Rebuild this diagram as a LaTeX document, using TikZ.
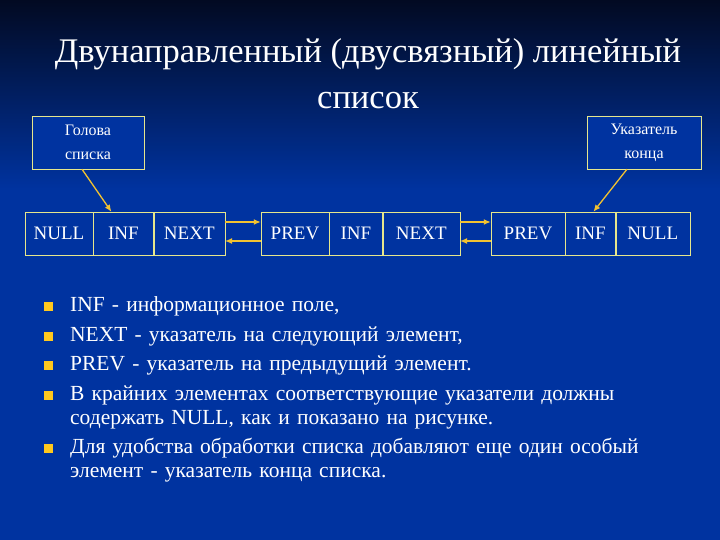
\documentclass[tikz,border=0pt]{standalone}
\usepackage{fontspec}
\setmainfont{Liberation Serif}
\usetikzlibrary{arrows.meta,positioning}
\definecolor{slidetop}{HTML}{020A22}
\definecolor{slideblue}{HTML}{0033A0}
\definecolor{boxline}{HTML}{E6E68C}
\definecolor{arrowgold}{HTML}{F2C230}
\definecolor{bulletgold}{HTML}{FFC81E}
\tikzset{
  cell/.style={draw=boxline,fill=slideblue,minimum height=43pt,inner sep=0pt,
    text=white,font=\fontsize{19}{20}\selectfont},
  ptrbox/.style={draw=boxline,fill=slideblue,minimum width=112pt,minimum height=53pt,
    align=center,text=white,font=\fontsize{16}{24}\selectfont},
  link/.style={-{Latex[length=7pt,width=6pt]},draw=arrowgold,line width=1.3pt},
  bullet/.style={fill=bulletgold,minimum size=9pt,inner sep=0pt},
  item/.style={anchor=base west,align=left,text width=640pt,inner sep=0pt,
    text=white,font=\fontsize{21.5}{24}\selectfont}
}
\begin{document}
\begin{tikzpicture}[x=1pt,y=-1pt]
  % фон слайда
  \fill[slideblue] (0,0) rectangle (720,540);
  \shade[top color=slidetop,bottom color=slideblue] (0,0) rectangle (720,190);
  \useasboundingbox (0,0) rectangle (720,540);

  \node[text=white,align=center,font=\fontsize{34.5}{46}\selectfont] (title) at (368,74)
    {Двунаправленный (двусвязный) линейный\\список};

  % указатели
  \node[ptrbox] (head) at (88,142.5) {Голова\\списка};
  \node[ptrbox,minimum width=114pt] (tail) at (644,142.5) {Указатель\\конца};

  % элементы списка
  \node[cell,minimum width=68pt] (null1) at (59,233.5) {NULL};
  \node[cell,minimum width=60pt,right=0pt of null1] (inf1) {INF};
  \node[cell,minimum width=71pt,right=0pt of inf1] (next1) {NEXT};

  \node[cell,minimum width=68pt] (prev2) at (295,233.5) {PREV};
  \node[cell,minimum width=53pt,right=0pt of prev2] (inf2) {INF};
  \node[cell,minimum width=77pt,right=0pt of inf2] (next2) {NEXT};

  \node[cell,minimum width=74pt] (prev3) at (528,233.5) {PREV};
  \node[cell,minimum width=50pt,right=0pt of prev3] (inf3) {INF};
  \node[cell,minimum width=74pt,right=0pt of inf3] (null3) {NULL};

  \draw[link] ([xshift=-6pt]head.south) -- ([xshift=-12pt]inf1.north);
  \draw[link] ([xshift=-17pt]tail.south) -- ([xshift=3pt]inf3.north);

  \draw[link] ([yshift=11.5pt]next1.east) -- ([yshift=11.5pt]prev2.west);
  \draw[link] ([yshift=-7.5pt]prev2.west) -- ([yshift=-7.5pt]next1.east);
  \draw[link] ([yshift=11.5pt]next2.east) -- ([yshift=11.5pt]prev3.west);
  \draw[link] ([yshift=-7.5pt]prev3.west) -- ([yshift=-7.5pt]next2.east);

  % пояснения
  \foreach \i/\y/\txt in {
      1/311/{INF - информационное поле,},
      2/341/{NEXT - указатель на следующий элемент,},
      3/370/{PREV - указатель на предыдущий элемент.},
      4/400/{В крайних элементах соответствующие указатели должны\\содержать NULL, как и показано на рисунке.},
      5/453/{Для удобства обработки списка добавляют еще один особый\\элемент - указатель конца списка.}}{
    \node[item] (item\i) at (70,\y) {\txt};
    \node[bullet] (bul\i) at (48,\y-5) {};
  }
\end{tikzpicture}
\end{document}
